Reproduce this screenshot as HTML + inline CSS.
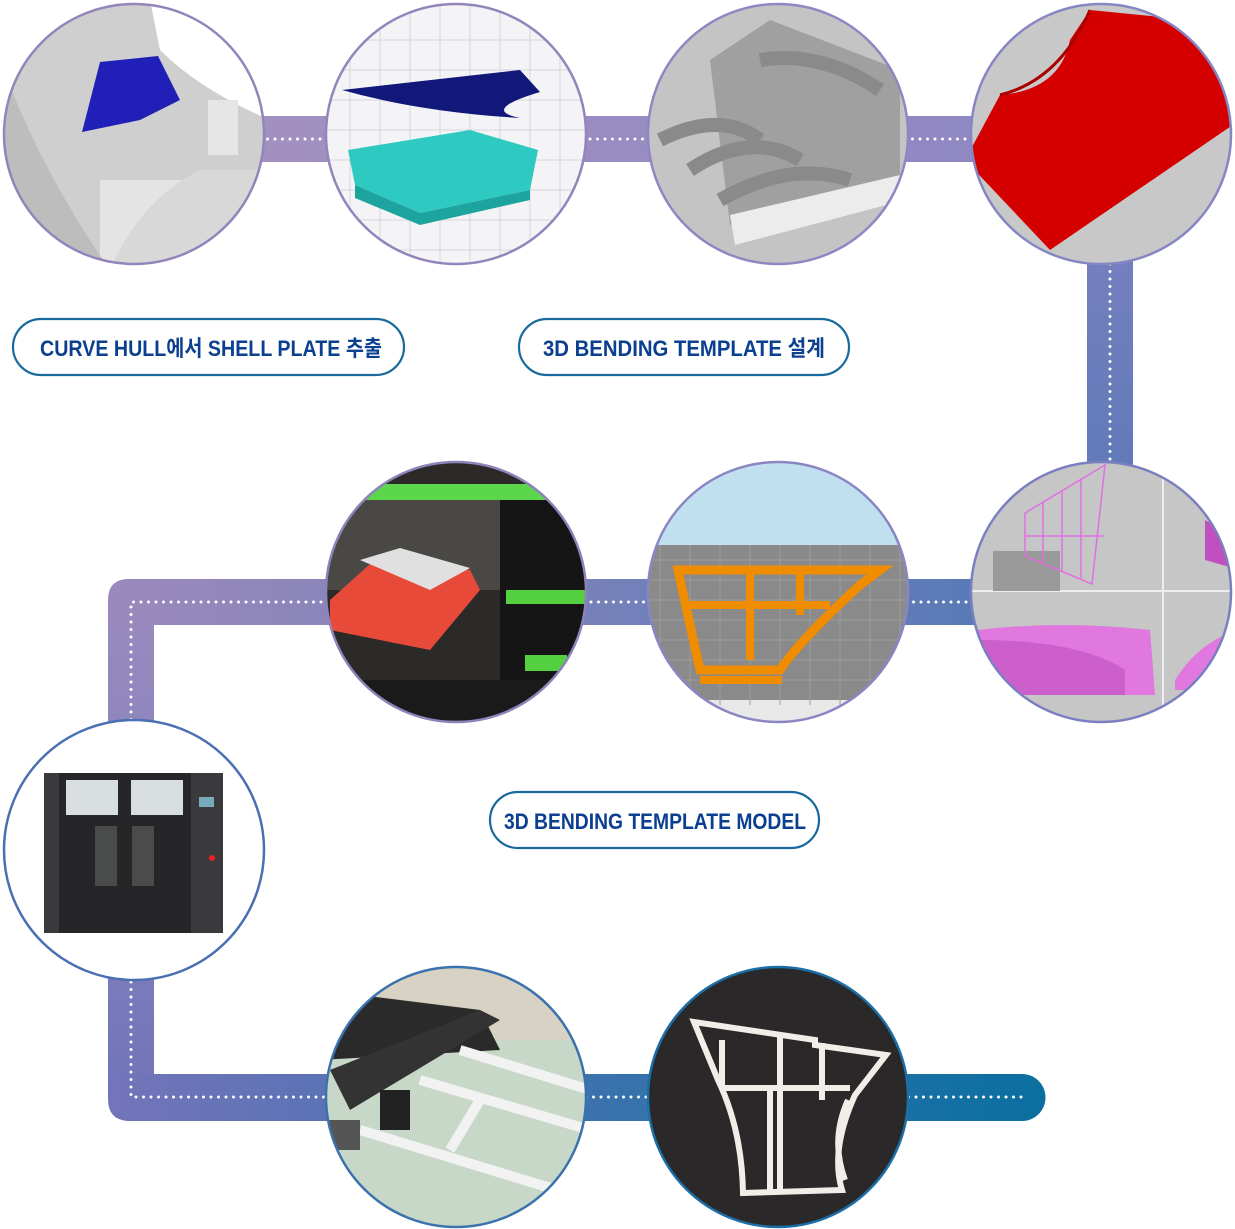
<!DOCTYPE html>
<html><head><meta charset="utf-8"><style>
html,body{margin:0;padding:0;background:#fff;width:1235px;height:1229px;overflow:hidden}
svg{display:block}
text{font-family:"Liberation Sans","Noto Sans CJK KR",sans-serif;font-weight:bold;fill:#0b3f8f}
</style></head><body>
<svg width="1235" height="1229" viewBox="0 0 1235 1229" xmlns="http://www.w3.org/2000/svg">
<defs>
<linearGradient id="g1" x1="0" x2="1" y1="0" y2="0"><stop offset="0" stop-color="#a592bf"/><stop offset="1" stop-color="#8c86c4"/></linearGradient>
<linearGradient id="g2" x1="0" x2="0" y1="0" y2="1"><stop offset="0" stop-color="#7f83c2"/><stop offset="1" stop-color="#5576b4"/></linearGradient>
<linearGradient id="g3" x1="1" x2="0" y1="0" y2="0"><stop offset="0" stop-color="#4f78b6"/><stop offset="1" stop-color="#9b89bc"/></linearGradient>
<linearGradient id="g4" x1="0" x2="0" y1="0" y2="1"><stop offset="0" stop-color="#988abf"/><stop offset="1" stop-color="#7275ba"/></linearGradient>
<linearGradient id="g5" x1="0" x2="1" y1="0" y2="0"><stop offset="0" stop-color="#7474ba"/><stop offset="0.5" stop-color="#3d72ae"/><stop offset="1" stop-color="#0a6fa0"/></linearGradient>
<clipPath id="c1"><circle cx="134" cy="134" r="130"/></clipPath>
<clipPath id="c2"><circle cx="456" cy="134" r="130"/></clipPath>
<clipPath id="c3"><circle cx="778" cy="134" r="130"/></clipPath>
<clipPath id="c4"><circle cx="1101" cy="134" r="130"/></clipPath>
<clipPath id="c5"><circle cx="1101" cy="592" r="130"/></clipPath>
<clipPath id="c6"><circle cx="778" cy="592" r="130"/></clipPath>
<clipPath id="c7"><circle cx="456" cy="592" r="130"/></clipPath>
<clipPath id="c8"><circle cx="134" cy="850" r="130"/></clipPath>
<clipPath id="c9"><circle cx="456" cy="1097" r="130"/></clipPath>
<clipPath id="c10"><circle cx="778" cy="1097" r="130"/></clipPath>
</defs>

<rect x="134" y="116" width="980" height="46" fill="url(#g1)"/>
<rect x="1087" y="134" width="46" height="470" fill="url(#g2)"/>
<path d="M1110 579 V625 H154 V1097 H108 V600 Q108 579 129 579 Z" fill="url(#g3)"/>
<rect x="108" y="625" width="46" height="460" fill="url(#g4)"/>
<path d="M108 1074 H1022 A23 23 0 0 1 1022 1121 H130 Q108 1121 108 1099 Z" fill="url(#g5)"/>

<g stroke="#fff" stroke-width="3" stroke-linecap="round" stroke-dasharray="0 7.5" fill="none">
<path d="M140 139 H1110 V602"/>
<path d="M1101 602 H131 V1097 H1026"/>
</g>

<g clip-path="url(#c1)">
<rect x="0" y="0" width="270" height="270" fill="#cfcfcf"/>
<path d="M150 0 H270 V120 Q200 90 160 50 Z" fill="#fff"/>
<rect x="100" y="180" width="170" height="90" fill="#e4e4e4"/>
<path d="M0 60 Q40 170 110 270 H0Z" fill="#bdbdbd"/>
<path d="M110 270 Q140 200 200 170 H270 V270Z" fill="#d8d8d8"/>
<polygon points="100,62 158,56 180,100 140,120 82,132" fill="#2020b8"/>
<rect x="208" y="100" width="30" height="55" fill="#e6e6e6"/>
</g>
<circle cx="134" cy="134" r="130" fill="none" stroke="#9384bb" stroke-width="2.5"/>

<g clip-path="url(#c2)">
<rect x="320" y="0" width="270" height="270" fill="#f4f4f6"/>
<g stroke="#d4d4dc" stroke-width="1"><path d="M320 40H590M320 70H590M320 100H590M320 130H590M320 160H590M320 190H590M320 220H590M320 250H590M350 0V270M380 0V270M410 0V270M440 0V270M470 0V270M500 0V270M530 0V270M560 0V270"/></g>
<path d="M342 90 Q430 80 520 70 L540 92 Q480 110 520 118 Q420 112 342 90Z" fill="#12187a"/>
<polygon points="348,150 470,130 538,150 530,190 420,213 355,185" fill="#2ec9c0"/>
<polygon points="355,185 420,213 530,190 530,200 420,225 355,198" fill="#1ea49e"/>
</g>
<circle cx="456" cy="134" r="130" fill="none" stroke="#9384bb" stroke-width="2.5"/>

<g clip-path="url(#c3)">
<rect x="640" y="0" width="280" height="270" fill="#c4c4c4"/>
<path d="M710 60 L770 20 L900 70 L900 190 L730 225 Z" fill="#a0a0a0"/>
<path d="M660 140 Q720 110 760 140 M690 170 Q750 130 800 160 M720 200 Q790 160 850 180 M760 60 Q820 50 880 90" stroke="#8a8a8a" stroke-width="14" fill="none"/>
<polygon points="730,215 900,175 905,200 735,245" fill="#ececec"/>
</g>
<circle cx="778" cy="134" r="130" fill="none" stroke="#8f86c2" stroke-width="2.5"/>

<g clip-path="url(#c4)">
<rect x="960" y="0" width="280" height="270" fill="#c8c8c8"/>
<path d="M1000 95 Q1060 90 1070 40 L1090 10 L1240 25 L1240 120 L1050 250 L965 160 Z" fill="#d40000"/>
<path d="M1090 10 Q1060 80 1000 95" stroke="#a00" stroke-width="3" fill="none"/>
</g>
<circle cx="1101" cy="134" r="130" fill="none" stroke="#8686c4" stroke-width="2.5"/>

<g clip-path="url(#c5)">
<rect x="960" y="450" width="280" height="290" fill="#c6c6c6"/>
<line x1="1163" y1="460" x2="1163" y2="730" stroke="#eee" stroke-width="2"/>
<line x1="960" y1="591" x2="1240" y2="591" stroke="#eee" stroke-width="2"/>
<rect x="993" y="551" width="67" height="40" fill="#9a9a9a"/>
<path d="M1025 513 L1105 465 L1092 584 L1025 556Z M1025 536 H1104 M1043 503 V562 M1062 490 V571 M1081 478 V578" stroke="#e070e0" stroke-width="1.5" fill="none"/>
<path d="M978 630 Q1060 620 1150 630 L1155 695 H978Z" fill="#e078e0"/>
<path d="M978 640 Q1080 640 1125 670 L1125 695 H978Z" fill="#cc5fcc"/>
<path d="M1175 680 Q1200 640 1240 630 V690 H1175Z" fill="#e078e0"/>
<path d="M1205 520 L1240 540 V570 L1205 560Z" fill="#c050c0"/>
</g>
<circle cx="1101" cy="592" r="130" fill="none" stroke="#7a7fc0" stroke-width="2.5"/>

<g clip-path="url(#c6)">
<rect x="640" y="450" width="280" height="290" fill="#c0e0f0"/>
<rect x="640" y="545" width="280" height="160" fill="#8a8a8a"/>
<rect x="640" y="700" width="280" height="40" fill="#e8e8e8"/>
<g stroke="#9c9c9c" stroke-width="1"><path d="M640 560H920M640 580H920M640 600H920M640 620H920M640 640H920M640 660H920M640 680H920M660 545V705M690 545V705M720 545V705M750 545V705M780 545V705M810 545V705M840 545V705M870 545V705M900 545V705"/></g>
<path d="M678 570 H880 L860 585 Q800 640 780 670 H700 Z" fill="none" stroke="#f08c00" stroke-width="9"/>
<path d="M690 605 H830 M750 570 V660 M800 570 V615 M700 680 H782" stroke="#f08c00" stroke-width="8" fill="none"/>
</g>
<circle cx="778" cy="592" r="130" fill="none" stroke="#8a86c2" stroke-width="2.5"/>

<g clip-path="url(#c7)">
<rect x="320" y="450" width="280" height="290" fill="#2c2a28"/>
<rect x="320" y="500" width="180" height="90" fill="#4a4844"/>
<rect x="360" y="484" width="230" height="16" fill="#5cd64a"/>
<rect x="500" y="500" width="90" height="200" fill="#151515"/>
<rect x="506" y="590" width="80" height="14" fill="#54d040"/>
<rect x="525" y="655" width="42" height="16" fill="#54d040"/>
<polygon points="330,600 380,555 470,570 480,590 430,650 330,630" fill="#e84a3a"/>
<polygon points="360,560 400,548 470,568 430,590" fill="#e0e0e0"/>
<rect x="330" y="680" width="260" height="40" fill="#1a1a1a"/>
</g>
<circle cx="456" cy="592" r="130" fill="none" stroke="#8e82ba" stroke-width="2.5"/>

<g clip-path="url(#c8)">
<rect x="0" y="715" width="270" height="270" fill="#fff"/>
<rect x="44" y="773" width="179" height="160" fill="#3a3a3c"/>
<rect x="59" y="773" width="132" height="160" fill="#262628"/>
<rect x="66" y="780" width="52" height="35" fill="#d8dde0"/>
<rect x="131" y="780" width="52" height="35" fill="#d8dde0"/>
<rect x="95" y="826" width="22" height="60" fill="#4a4c4c"/>
<rect x="132" y="826" width="22" height="60" fill="#4a4c4c"/>
<rect x="199" y="797" width="15" height="10" fill="#7ab"/>
<circle cx="212" cy="858" r="3" fill="#e22"/>
</g>
<circle cx="134" cy="850" r="130" fill="none" stroke="#4a6fb2" stroke-width="2.5"/>

<g clip-path="url(#c9)">
<rect x="320" y="960" width="280" height="280" fill="#c8d8c8"/>
<rect x="320" y="960" width="280" height="80" fill="#d8d2c4"/>
<polygon points="320,990 480,1010 500,1050 320,1060" fill="#2a2a2a"/>
<polygon points="330,1070 480,1010 500,1020 350,1110" fill="#333"/>
<path d="M460 1050 L590 1090 M420 1080 L590 1130 M360 1130 L590 1200 M480 1100 L450 1150" stroke="#f2f2f2" stroke-width="10"/>
<rect x="380" y="1090" width="30" height="40" fill="#222"/>
<rect x="320" y="1120" width="40" height="30" fill="#555"/>
</g>
<circle cx="456" cy="1097" r="130" fill="none" stroke="#3a72ae" stroke-width="2.5"/>

<g clip-path="url(#c10)">
<rect x="640" y="960" width="280" height="280" fill="#2a2828"/>
<path d="M694 1022 L815 1040 L815 1045 L886 1055 L855 1095 Q830 1150 842 1190 L743 1193 Q742 1130 718 1080 Z" fill="none" stroke="#efeee8" stroke-width="6"/>
<path d="M720 1088 H850 M722 1040 V1090 M780 1035 V1190 M822 1043 V1100 M770 1090 V1190 M848 1100 Q830 1140 845 1180" stroke="#efeee8" stroke-width="6" fill="none"/>
</g>
<circle cx="778" cy="1097" r="130" fill="none" stroke="#1b6ea6" stroke-width="2.5"/>

<g fill="#fff" stroke="#1a6a9e" stroke-width="2.2">
<rect x="13" y="319" width="391" height="56" rx="28"/>
<rect x="519" y="319" width="330" height="56" rx="28"/>
<rect x="490" y="792" width="329" height="56" rx="28"/>
</g>
<text x="40" y="356" font-size="22" textLength="342" lengthAdjust="spacingAndGlyphs">CURVE HULL에서 SHELL PLATE 추출</text>
<text x="543" y="356" font-size="22" textLength="282" lengthAdjust="spacingAndGlyphs">3D BENDING TEMPLATE 설계</text>
<text x="504" y="829" font-size="22" textLength="302" lengthAdjust="spacingAndGlyphs">3D BENDING TEMPLATE MODEL</text>
</svg>
</body></html>
